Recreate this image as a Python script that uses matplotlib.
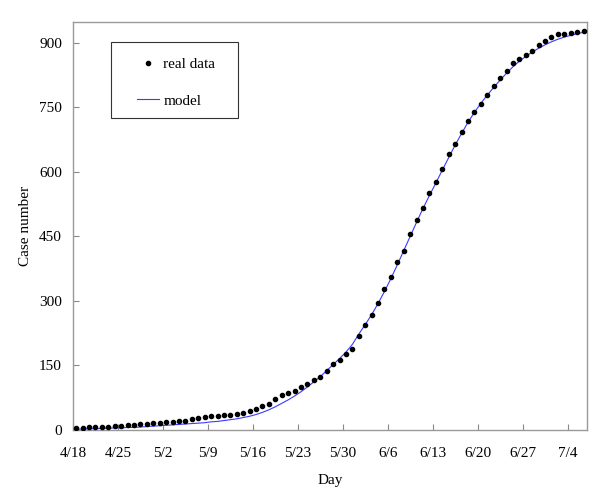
import matplotlib
matplotlib.use("Agg")
import matplotlib.pyplot as plt
import numpy as np
from matplotlib.patches import Rectangle

plt.rcParams['font.family'] = ['Liberation Serif', 'DejaVu Serif']

# daily observed cumulative cases, starting 4/18
real_data = [4, 5, 6, 7, 8, 8, 10, 10, 12, 12,
             14, 15, 16, 16, 19, 19, 20, 20, 25, 27,
             30, 32, 33, 34, 35, 38, 40, 45, 50, 55,
             61, 73, 82, 86, 91, 99, 106, 117, 124, 138,
             154, 163, 177, 189, 218, 243, 267, 296, 327, 356,
             390, 417, 455, 488, 517, 550, 577, 607, 642, 664,
             692, 719, 740, 758, 779, 799, 817, 835, 852, 863,
             872, 881, 894, 904, 914, 919, 921, 923, 925, 927]

# model curve, same days
model = [2, 2, 3, 3, 4, 4, 5, 5, 6, 6,
         7, 8, 9, 10, 11, 12, 13, 14, 15, 16,
         17, 19, 20, 22, 24, 26, 29, 32, 36, 41,
         47, 54, 62, 70, 79, 89, 100, 112, 124, 138,
         152, 166, 181, 199, 223, 245, 268, 294, 322, 352,
         384, 417, 450, 483, 515, 545, 574, 604, 633, 662,
         689, 715, 738, 759, 778, 796, 813, 829, 844, 857,
         868, 878, 887, 895, 902, 908, 913, 917, 921, 924]

tick_labels = ['4/18', '4/25', '5/2', '5/9', '5/16', '5/23', '5/30',
               '6/6', '6/13', '6/20', '6/27', '7/4']
y_ticks = [0, 150, 300, 450, 600, 750, 900]

days = np.arange(len(real_data)) + 0.5

fig = plt.figure(figsize=(6, 4.98), dpi=100)
ax = fig.add_axes([0.1217, 0.1365, 0.8563, 0.8193])

ax.plot(days, model, color='#3a3aff', lw=0.8, label='model', zorder=2)
ax.plot(days, real_data, 'o', color='black', markersize=3.0, label='real data', zorder=3)

ax.set_xlim(0, 80)
ax.set_ylim(0, 948)
ax.set_xticks(np.arange(len(tick_labels)) * 7)
ax.set_xticklabels(tick_labels)
ax.set_yticks(y_ticks)

for s in ax.spines.values():
    s.set_color('#999999')
    s.set_linewidth(1.0)
ax.tick_params(direction='in', length=4, color='#888888', labelsize=11)
ax.tick_params(axis='x', pad=12)
ax.tick_params(axis='y', pad=8)

ax.set_xlabel('Day', fontsize=11, labelpad=10)
ax.set_ylabel('Case number', fontsize=11, labelpad=5)

# legend box drawn separately so it can be wider than the legend itself
ax.add_patch(Rectangle((0.0733, 0.764), 0.2471, 0.1877, transform=ax.transAxes,
                       fill=True, facecolor='white', edgecolor='#333333',
                       lw=0.8, zorder=4))
handles, labels = ax.get_legend_handles_labels()
leg = ax.legend(handles[::-1], labels[::-1], loc='upper left',
                bbox_to_anchor=(0.124, 0.913), fontsize=11, frameon=False,
                labelspacing=1.5, handlelength=1.45, borderpad=0,
                handletextpad=0.3, borderaxespad=0)
leg.set_zorder(5)

fig.savefig('out.png', dpi=100)
